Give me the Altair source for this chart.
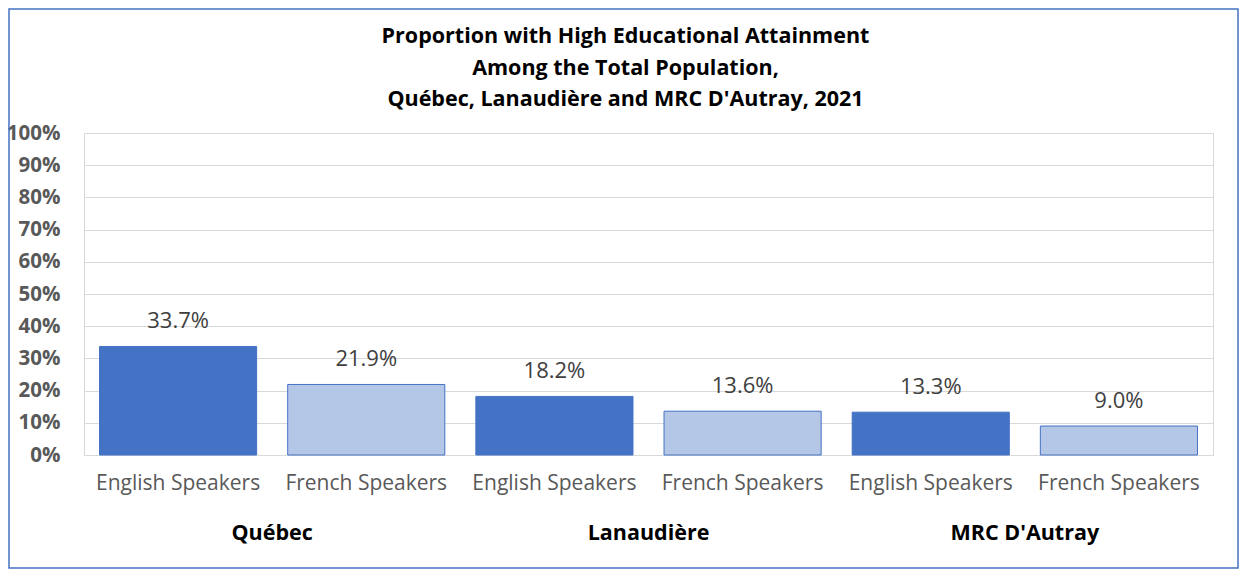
import altair as alt
import pandas as pd

regions = ["Québec", "Québec", "Lanaudière", "Lanaudière", "MRC D'Autray", "MRC D'Autray"]
speakers = ["English Speakers", "French Speakers"] * 3
values = [33.7, 21.9, 18.2, 13.6, 13.3, 9.0]
region_order = ["Québec", "Lanaudière", "MRC D'Autray"]
title_lines = [
    "Proportion with High Educational  Attainment",
    "Among the Total Population,",
    "Québec, Lanaudière and MRC D'Autray, 2021",
]
y_ticks = [round(i / 10, 1) for i in range(11)]

df = pd.DataFrame({
    "region": regions,
    "speaker": speakers,
    "value": [v / 100 for v in values],
})
df["key"] = df["region"] + "|" + df["speaker"]
keys = list(df["key"])

W, H = 1129, 322
PL, PT, PR, PB = 76, 125, 26, 114
FONT = "Open Sans"

x = alt.X(
    "key:N", sort=keys, title=None,
    scale=alt.Scale(paddingInner=0.165, paddingOuter=0.0825),
    axis=alt.Axis(labelExpr="split(datum.value, '|')[1]", labelAngle=0, ticks=False,
                  domainColor="#d9d9d9", labelPadding=17, labelFontSize=21,
                  labelColor="#595959", labelFont=FONT),
)
y = alt.Y(
    "value:Q", title=None,
    scale=alt.Scale(domain=[0, 1], nice=False),
    axis=alt.Axis(values=y_ticks, format=".0%", ticks=False, domain=False,
                  labelOverlap=False, gridColor="#d9d9d9", labelFontWeight="bold",
                  labelFontSize=20.5, labelColor="#595959", labelPadding=24, labelFont=FONT),
)

base = alt.Chart(df)
bars = base.mark_bar(stroke="#4472C4", strokeWidth=1).encode(
    x=x, y=y,
    color=alt.Color("speaker:N", legend=None,
                    scale=alt.Scale(domain=["English Speakers", "French Speakers"],
                                    range=["#4472C4", "#B4C7E7"])),
)
labels = base.mark_text(baseline="bottom", dy=-13, fontSize=22, font=FONT, color="#404040").encode(
    x=alt.X("key:N", sort=keys), y=y, text=alt.Text("value:Q", format=".1%"),
)

gdf = pd.DataFrame({"region": region_order})
group_labels = alt.Chart(gdf).mark_text(fontSize=21.5, fontWeight="bold", font=FONT, color="black").encode(
    x=alt.X("region:N", sort=region_order, axis=None,
            scale=alt.Scale(paddingInner=0, paddingOuter=0)),
    y=alt.value(H + 79),
    text="region:N",
)

tdf = pd.DataFrame({"title": ["\n".join(title_lines)]})
title = alt.Chart(tdf).mark_text(
    fontSize=21.5, fontWeight="bold", font=FONT, color="black", lineBreak="\n",
    lineHeight=31.5, baseline="top", align="center",
).encode(
    x=alt.value(W / 2 - 23), y=alt.value(-PT + 18), text="title:N",
)

border = alt.Chart(pd.DataFrame({"a": [0]})).mark_rect(
    fillOpacity=0, stroke="#4472C4", strokeWidth=1.5
).encode(
    x=alt.value(-PL + 1), x2=alt.value(W + PR - 1),
    y=alt.value(-PT + 1), y2=alt.value(H + PB - 1),
)

main = alt.layer(bars, labels)
chart = alt.layer(main, group_labels, title, border).resolve_scale(x="independent").properties(
    width=W, height=H,
    autosize=alt.AutoSizeParams(type="none"),
    padding={"left": PL, "top": PT, "right": PR, "bottom": PB},
).configure_view(stroke="#d9d9d9")

chart.save("out.html", embed_options={"renderer": "svg", "actions": False})
